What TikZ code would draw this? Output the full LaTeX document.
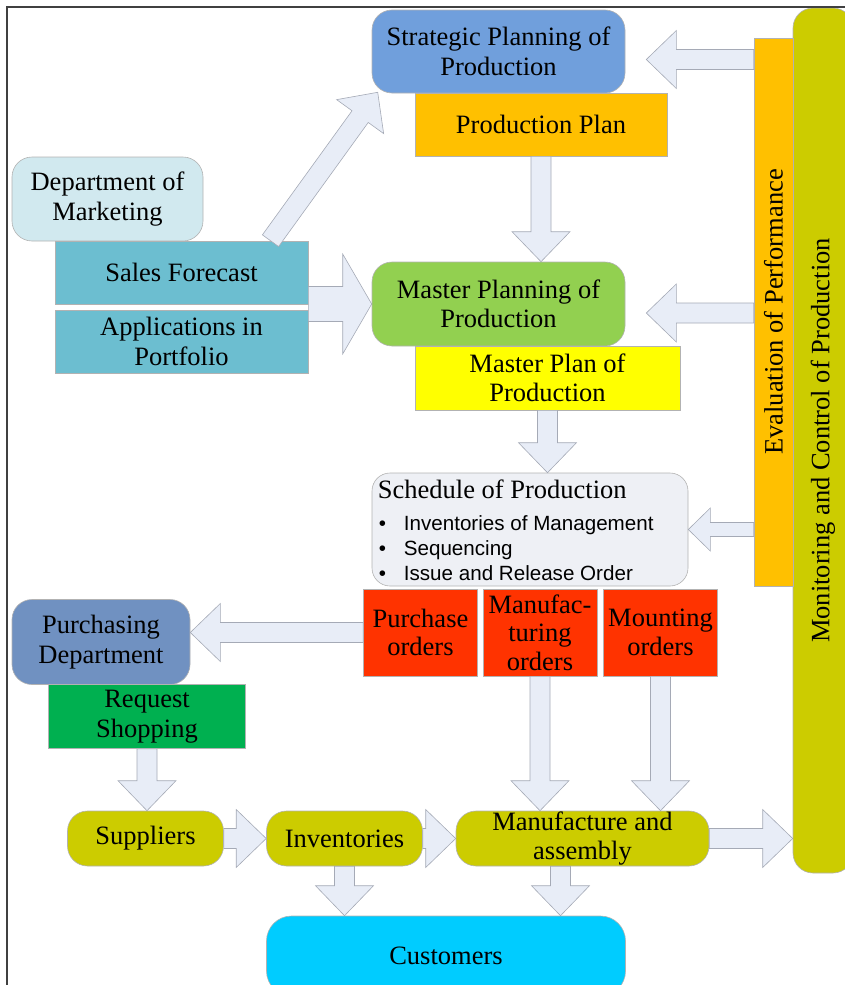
\documentclass[tikz,border=0pt]{standalone}
\usepackage{fontspec}
\setmainfont{Liberation Serif}
\newfontfamily\sansfont{Liberation Sans}
\usetikzlibrary{calc,positioning}
\definecolor{stratblue}{RGB}{112,159,220}
\definecolor{planorange}{RGB}{255,192,0}
\definecolor{mktcyan}{RGB}{209,233,239}
\definecolor{salesteal}{RGB}{108,190,208}
\definecolor{mastergreen}{RGB}{146,208,80}
\definecolor{planyellow}{RGB}{255,255,0}
\definecolor{schedgray}{RGB}{238,240,245}
\definecolor{orderred}{RGB}{255,51,0}
\definecolor{purchblue}{RGB}{112,145,193}
\definecolor{reqgreen}{RGB}{0,176,80}
\definecolor{olive}{RGB}{204,204,0}
\definecolor{custcyan}{RGB}{0,204,255}
\definecolor{arrowfill}{RGB}{232,237,247}
\definecolor{arrowline}{RGB}{165,170,182}

% block arrow: from, to, shaft half width, head half width, head length
\newcommand{\barrowx}[5]{%
  \coordinate (ba-s) at #1;
  \coordinate (ba-e) at #2;
  \coordinate (ba-h) at ($(ba-e)!#5pt!(ba-s)$);
  \filldraw[arrow_b] ($(ba-s)!#3pt!90:(ba-e)$) -- ($(ba-h)!#3pt!-90:(ba-s)$)
    -- ($(ba-h)!#4pt!-90:(ba-s)$) -- (ba-e) -- ($(ba-h)!#4pt!90:(ba-s)$)
    -- ($(ba-h)!#3pt!90:(ba-s)$) -- ($(ba-s)!#3pt!-90:(ba-e)$) -- cycle;}
\newcommand{\barrow}[2]{\barrowx{#1}{#2}{10}{29}{30}}
\newcommand{\listbullet}{\makebox[25pt][l]{\textbullet}}

\begin{document}
\begin{tikzpicture}[x=1pt,y=-1pt]

\tikzstyle{base_b} = [draw=black!30, line width=0.6pt, inner sep=1pt, align=center,
font=\fontsize{26.5}{29.5}\selectfont]
\tikzstyle{round_b} = [base_b, rounded corners=20pt]
\tikzstyle{rect_b} = [base_b]
\tikzstyle{red_block} = [rect_b, fill=orderred, inner sep=0pt, minimum width=114pt,
minimum height=87pt, font=\fontsize{26.5}{28.5}\selectfont]
\tikzstyle{olive_block} = [round_b, fill=olive, inner sep=0pt, minimum height=55pt,
font=\fontsize{26.5}{28.5}\selectfont]
\tikzstyle{arrow_b} = [fill=arrowfill, draw=arrowline, line width=0.6pt, line join=miter]

\useasboundingbox (0,0) rectangle (845,985);

% right side bars
\node[round_b, fill=olive, rotate=90, minimum width=865pt, minimum height=60pt] (monit) at (823,440.5) {Monitoring and Control of Production};
\node[rect_b, fill=planorange, rotate=90, minimum width=548pt, minimum height=39pt] (eval) at (773.5,312) {Evaluation of Performance};

% planning
\node[round_b, fill=stratblue, minimum width=253pt, minimum height=83pt] (strat) at (498.5,51.5) {Strategic Planning of\\Production};
\node[rect_b, fill=planorange, minimum width=252pt, minimum height=63pt] (pplan) at (541,124.5) {Production Plan};
\node[round_b, fill=mktcyan, minimum width=191pt, minimum height=84pt] (mkt) at (107.5,199) {Department of\\Marketing};
\node[rect_b, fill=salesteal, minimum width=253pt, minimum height=63pt] (sales) at (181.5,272.5) {Sales Forecast};
\node[rect_b, fill=salesteal, minimum width=253pt, minimum height=63pt] (apps) at (181.5,341.5) {Applications in\\Portfolio};
\node[round_b, fill=mastergreen, minimum width=253pt, minimum height=84pt] (master) at (498.5,304) {Master Planning of\\Production};
\node[rect_b, fill=planyellow, minimum width=265pt, minimum height=64pt] (mplan) at (547.5,378) {Master Plan of\\Production};

% schedule
\node[round_b, fill=schedgray, rounded corners=18pt, minimum width=316pt, minimum height=113pt] (sched) at (530,529.5) {};
\node[anchor=north west, inner sep=0pt, font=\fontsize{26.5}{29.5}\selectfont] (sched_title) at ($(sched.north west)+(6,7)$) {Schedule of Production};
\node[anchor=north west, inner sep=0pt, align=left, font=\sansfont\fontsize{20.6}{25}\selectfont] (sched_list) at ($(sched.north west)+(7,43)$)
{\listbullet Inventories of Management\\
\listbullet Sequencing\\
\listbullet Issue and Release Order};

% orders
\node[red_block] (porder) at (420.5,632.5) {Purchase\\orders};
\node[red_block] (morder) at (540,632.5) {Manufac-\\turing\\orders};
\node[red_block] (mtorder) at (660.5,632.5) {Mounting\\orders};

% purchasing
\node[round_b, fill=purchblue, minimum width=178pt, minimum height=85pt] (purch) at (101,642) {Purchasing\\Department};
\node[rect_b, fill=reqgreen, minimum width=197pt, minimum height=64pt] (req) at (147,716.5) {Request\\Shopping};

% shop floor
\node[olive_block, minimum width=156pt] (supp) at (145.5,838.5) {Suppliers};
\node[olive_block, minimum width=156pt] (inv) at (344.5,838.5) {Inventories};
\node[olive_block, minimum width=253pt] (manuf) at (582.5,838.5) {Manufacture and\\assembly};
\node[round_b, fill=custcyan, rounded corners=25pt, minimum width=359pt, minimum height=80pt] (cust) at (446,956) {Customers};

% frame
\draw[line width=1.5pt, black!75] (7,985) -- (7,7) -- (845,7);

% arrows
\barrow{($(sales.north)+(89,0)$)}{($(strat.south west)+(6,-1)$)}
\barrow{(pplan.south)}{(pplan.south |- master.north)}
\barrowx{(sales.east |- master.west)}{(master.west)}{17.5}{50}{29}
\barrow{(mplan.south)}{(mplan.south |- sched.north)}
\barrow{($(eval.north |- strat.east)+(0,8)$)}{($(strat.east)+(21,8)$)}
\barrow{($(eval.north |- master.east)+(0,9)$)}{($(master.east)+(21,9)$)}
\barrowx{(eval.north |- sched.east)}{(sched.east)}{7}{21.5}{22}
\barrow{(porder.west)}{(purch.east |- porder.west)}
\barrow{(req.south)}{(req.south |- supp.north)}
\barrow{(supp.east)}{(inv.west)}
\barrow{(inv.east)}{(manuf.west)}
\barrow{(manuf.east)}{(monit.north |- manuf.east)}
\barrow{(morder.south)}{(morder.south |- manuf.north)}
\barrow{(mtorder.south)}{(mtorder.south |- manuf.north)}
\barrow{(inv.south)}{(inv.south |- cust.north)}
\barrow{($(manuf.south)+(-22,0)$)}{($(manuf.south |- cust.north)+(-22,0)$)}

\end{tikzpicture}
\end{document}
